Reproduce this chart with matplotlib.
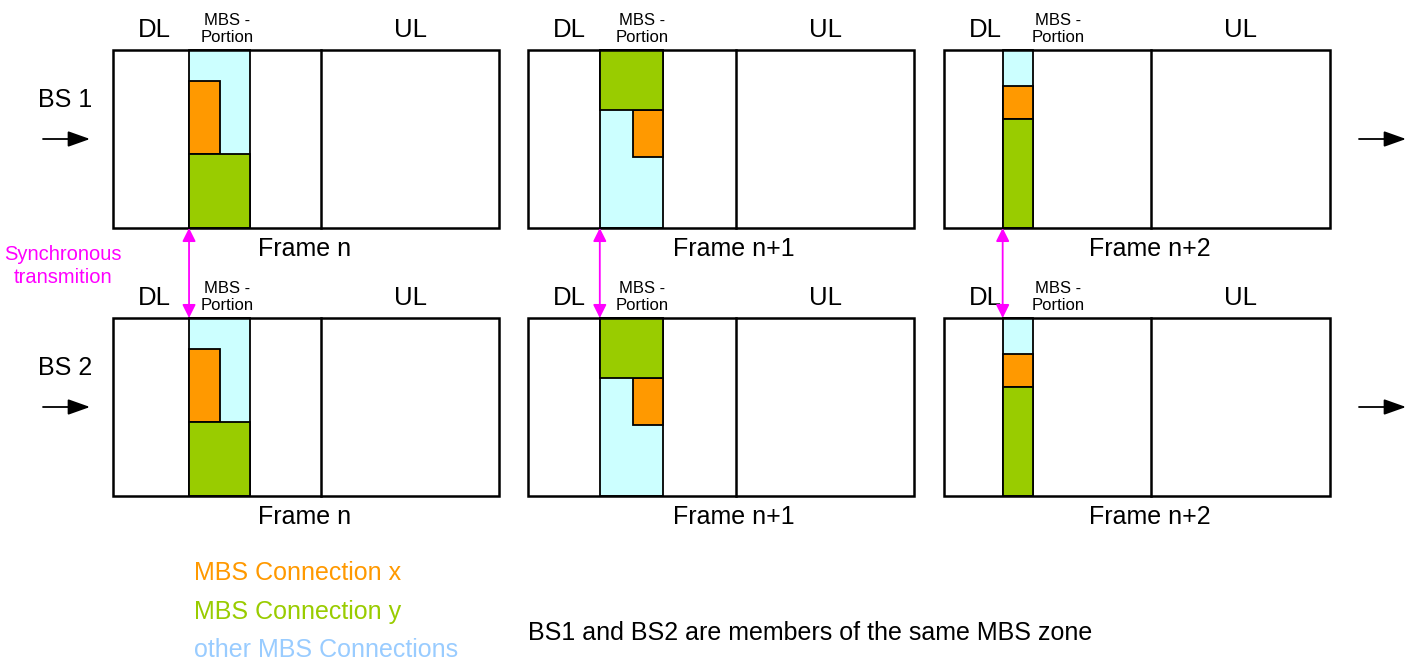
import matplotlib
matplotlib.use("Agg")
import matplotlib.pyplot as plt
from matplotlib.patches import Rectangle

plt.rcParams['font.family'] = ['Liberation Sans', 'DejaVu Sans']

# ---- data ----
frame_labels = ["Frame n", "Frame n+1", "Frame n+2"]
bs_labels = ["BS 1", "BS 2"]
# MBS portion start / width as fraction of frame width
mbs_start = [0.197, 0.186, 0.152]
mbs_width = [0.158, 0.165, 0.078]
dl_fraction = [0.539, 0.540, 0.537]
# allocations inside MBS portion: (x0, x1, y0, y1) fractions
conn_x = [(0.0, 0.5, 0.174, 0.584), (0.52, 1.0, 0.335, 0.60), (0.0, 1.0, 0.20, 0.39)]
conn_y = [(0.0, 1.0, 0.584, 1.0), (0.0, 1.0, 0.0, 0.335), (0.0, 1.0, 0.39, 1.0)]
legend_labels = ["MBS Connection x", "MBS Connection y", "other MBS Connections"]

ORANGE = "#FF9900"
GREEN = "#99CC00"
CYAN = "#CCFFFF"
LIGHTBLUE = "#99CCFF"
MAGENTA = "#FF00FF"

W, H = 1418, 667
fig = plt.figure(figsize=(W / 100, H / 100), dpi=100)
ax = fig.add_axes([0, 0, 1, 1])
ax.set_xlim(0, W)
ax.set_ylim(H, 0)
ax.axis("off")

frame_x = [113, 528, 944]
frame_w = 386
row_y = [50, 318]
frame_h = 178

for r, ry in enumerate(row_y):
    for i, fx in enumerate(frame_x):
        # MBS portion
        mx = fx + mbs_start[i] * frame_w
        mw = mbs_width[i] * frame_w
        ax.add_patch(Rectangle((mx, ry), mw, frame_h, facecolor=CYAN, edgecolor="black", lw=1.3, zorder=2))
        for (x0, x1, y0, y1), col in [(conn_x[i], ORANGE), (conn_y[i], GREEN)]:
            ax.add_patch(Rectangle((mx + x0 * mw, ry + y0 * frame_h), (x1 - x0) * mw, (y1 - y0) * frame_h,
                                   facecolor=col, edgecolor="black", lw=1.3, zorder=3))
        # frame outline and DL/UL divider
        ax.add_patch(Rectangle((fx, ry), frame_w, frame_h, facecolor="none", edgecolor="black", lw=1.8, zorder=4))
        dx = fx + dl_fraction[i] * frame_w
        ax.plot([dx, dx], [ry, ry + frame_h], color="black", lw=1.8, zorder=4)
        # labels
        ax.text(fx + 41, ry - 20, "DL", ha="center", va="center", fontsize=18.5)
        ax.text(fx + 114, ry - 21, "MBS -\nPortion", ha="center", va="center", fontsize=12, linespacing=1.2)
        ax.text((dx + fx + frame_w) / 2, ry - 20, "UL", ha="center", va="center", fontsize=18.5)
        ax.text(fx + 145, ry + frame_h + 21, frame_labels[i], ha="left", va="center", fontsize=18)
    # BS labels and arrows
    ax.text(65, ry + 50, bs_labels[r], ha="center", va="center", fontsize=18)
    for x0, x1 in [(43, 90), (1359, 1406)]:
        ax.annotate("", xy=(x1, ry + 89), xytext=(x0, ry + 89),
                    arrowprops=dict(arrowstyle="-|>,head_length=0.45,head_width=0.16", color="black",
                                    lw=1.3, mutation_scale=30, shrinkA=0, shrinkB=0))

# synchronous transmission arrows
for i, fx in enumerate(frame_x):
    mx = fx + mbs_start[i] * frame_w
    ax.annotate("", xy=(mx, row_y[1]), xytext=(mx, row_y[0] + frame_h),
                arrowprops=dict(arrowstyle="<|-|>,head_length=0.4,head_width=0.2", color=MAGENTA,
                                lw=1.3, mutation_scale=20, shrinkA=0, shrinkB=0), zorder=6)
ax.text(63, 266, "Synchronous\ntransmition", ha="center", va="center", fontsize=14.5,
        color=MAGENTA, linespacing=1.3)

# legend texts
for lab, col, y in zip(legend_labels, [ORANGE, GREEN, LIGHTBLUE], [573, 612, 650]):
    ax.text(194, y, lab, ha="left", va="center", fontsize=18, color=col)

ax.text(528, 633, "BS1 and BS2 are members of the same MBS zone", ha="left", va="center", fontsize=18)

fig.savefig("out.png", dpi=100)
